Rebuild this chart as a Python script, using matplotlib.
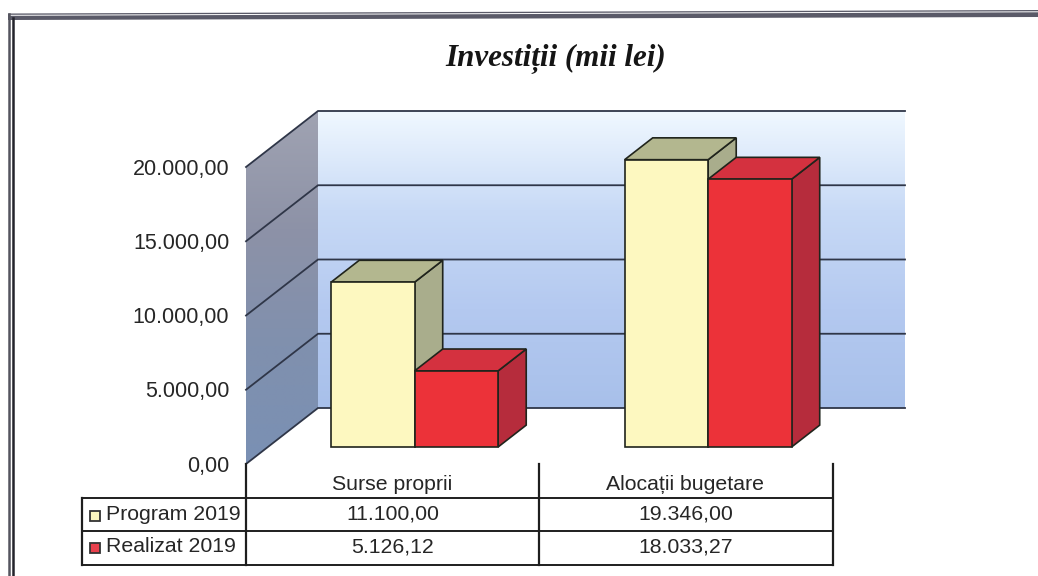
import numpy as np
import matplotlib
matplotlib.use('Agg')
import matplotlib.pyplot as plt
from matplotlib.colors import LinearSegmentedColormap
from matplotlib.patches import Polygon

categories = ['Surse proprii', 'Alocații bugetare']
series_names = ['Program 2019', 'Realizat 2019']
program = [11100.00, 19346.00]
realizat = [5126.12, 18033.27]
program_labels = ['11.100,00', '19.346,00']
realizat_labels = ['5.126,12', '18.033,27']
yticks = [0, 5000, 10000, 15000, 20000]
ytick_labels = ['0,00', '5.000,00', '10.000,00', '15.000,00', '20.000,00']

W, H = 1038, 576
X0, CAT_W = 246, 293.5     # pixel of x=0, pixels per category
Y0, PX_PER_VAL = 464, 297 / 20000
DEPTH_PX = (72, 56)
FONT = 'Liberation Sans'
TXT = '#262626'

fig = plt.figure(figsize=(W / 100, H / 100), dpi=100, facecolor='white')

# chart axes fills the figure, limits chosen so the data lands on the right pixels
ax = fig.add_axes([0, 0, 1, 1])
ax.axis('off')

dx = DEPTH_PX[0] / CAT_W
dy = DEPTH_PX[1] / PX_PER_VAL


def proj(x, v, d):
    return (x + d * dx, v + d * dy)


def gradient(poly_pts, colors):
    cmap = LinearSegmentedColormap.from_list('g', colors)
    g = np.linspace(0, 1, 256)[:, None]
    xs, ys = zip(*poly_pts)
    im = ax.imshow(g, cmap=cmap, extent=[min(xs), max(xs), min(ys), max(ys)],
                   origin='upper', aspect='auto', zorder=1, interpolation='bilinear')
    clip = Polygon(poly_pts, transform=ax.transData, fc='none', ec='none')
    ax.add_patch(clip)
    im.set_clip_path(clip)


top = yticks[-1]
xmax = len(categories)
# back wall
gradient([proj(0, 0, 1), proj(xmax, 0, 1), proj(xmax, top, 1), proj(0, top, 1)],
         ['#f0f8ff', '#c8daf6', '#b4c9f0', '#a8c0ea'])
# side wall
gradient([proj(0, 0, 0), proj(0, 0, 1), proj(0, top, 1), proj(0, top, 0)],
         ['#a0a3b2', '#8d92a7', '#8090ae', '#7a90b4'])
ax.set_xlim(-X0 / CAT_W, (W - X0) / CAT_W)
ax.set_ylim(-(H - Y0) / PX_PER_VAL, Y0 / PX_PER_VAL)

line_c = '#2f3648'
for v in yticks:
    a, b, c = proj(0, v, 0), proj(0, v, 1), proj(xmax, v, 1)
    ax.plot([a[0], b[0], c[0]], [a[1], b[1], c[1]], color=line_c, lw=1.3, zorder=2,
            solid_joinstyle='miter')


def bar3d(x0, w, v, front, side, topc):
    d0, d1 = 0.304, 0.694
    faces = [
        ([proj(x0 + w, 0, d0), proj(x0 + w, 0, d1), proj(x0 + w, v, d1), proj(x0 + w, v, d0)], side),
        ([proj(x0, v, d0), proj(x0 + w, v, d0), proj(x0 + w, v, d1), proj(x0, v, d1)], topc),
        ([proj(x0, 0, d0), proj(x0 + w, 0, d0), proj(x0 + w, v, d0), proj(x0, v, d0)], front),
    ]
    for pts, col in faces:
        ax.add_patch(Polygon(pts, closed=True, fc=col, ec='#20241c', lw=1.2, zorder=3,
                             joinstyle='miter'))


bw = 0.2845
for i in range(len(categories)):
    center = i + 0.5
    bar3d(center - bw, bw, program[i], '#fdf8c0', '#a9ad8c', '#b3b78f')
    bar3d(center, bw, realizat[i], '#ec3239', '#b62c3c', '#d4313f')

for v, lab in zip(yticks, ytick_labels):
    ax.annotate(lab, (0, v), xytext=(-12, -1.5), textcoords='offset points', ha='right', va='center',
                fontsize=15.5, family=FONT, color=TXT)

# overlay in pixel coordinates for frame, title and data table
ov = fig.add_axes([0, 0, 1, 1])
ov.set_xlim(0, W)
ov.set_ylim(H, 0)
ov.axis('off')
ov.patch.set_alpha(0)

# scanned page frame
ov.add_patch(Polygon([(8, 13.5), (W, 10), (W, 17), (8, 20)], fc='#5a5a68', ec='none'))
ov.plot([10, W], [15.3, 11.8], color='white', lw=0.7)
ov.plot([9.3, 9.3], [14, H], color='#55555f', lw=1.8)
ov.plot([13, 13], [18, H], color='#23232b', lw=1.8)

ov.text(556, 59, 'Investiții (mii lei)', ha='center', va='center', fontsize=22.3,
        family='Liberation Serif', style='italic', weight='bold', color='#151515')

tc = '#1e1e1e'
tl, t1, t2, tr = 82, 246, 539, 833
for y in [498, 531, 565]:
    ov.plot([tl, tr], [y, y], color=tc, lw=1.4)
for x, ya in [(tl, 498), (t1, 464), (t2, 464), (tr, 464)]:
    ov.plot([x, x], [ya, 565], color=tc, lw=1.6)

for i, cat in enumerate(categories):
    xc = (t1 + t2) / 2 + i * (t2 - t1)
    ov.text(xc, 484, cat, ha='center', va='center', fontsize=15.3, family=FONT, color=TXT)
    ov.text(xc, 514, program_labels[i], ha='center', va='center', fontsize=15.3, family=FONT, color=TXT)
    ov.text(xc, 547, realizat_labels[i], ha='center', va='center', fontsize=15.3, family=FONT, color=TXT)

swatches = ['#fdf8c0', '#e8404c']
for y, name, col in zip([516, 548], series_names, swatches):
    ov.add_patch(plt.Rectangle((90, y - 5), 10, 10, fc=col, ec='#333333', lw=1.3))
    ov.text(106, y - 2, name, ha='left', va='center', fontsize=15.3, family=FONT, color=TXT)

plt.savefig('out.png', dpi=100)
